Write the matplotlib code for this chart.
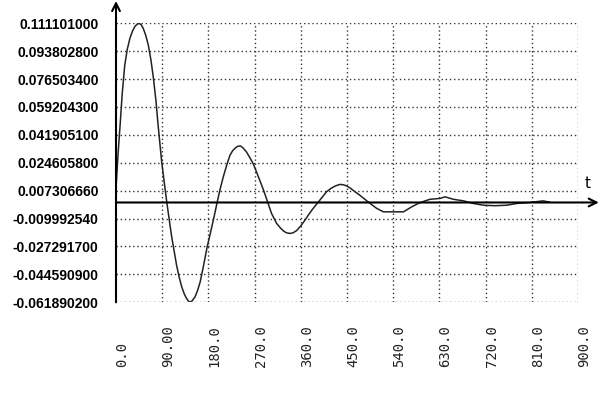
import matplotlib
matplotlib.use("Agg")
import matplotlib.pyplot as plt

# ======================
# DATA
# ======================
t_vals = [0, 4, 8, 12, 17, 22, 27, 32, 37, 41, 45, 49, 53, 58, 63, 68, 73,
          78, 82, 89, 94, 99, 108, 118, 123, 128, 133, 138, 143, 148, 154,
          159, 164, 170, 177, 186, 192, 197, 203, 209, 216, 222, 227, 232,
          237, 242, 247, 254, 260, 267, 273, 280, 287, 293, 303, 313, 320,
          326, 332, 339, 345, 352, 360, 368, 376, 384, 397, 410, 419, 427,
          436, 443, 449, 456, 465, 475, 491, 508, 521, 540, 560, 576, 589,
          602, 612, 631, 641, 657, 677, 696, 716, 738, 761, 781, 806, 832,
          845]
y_vals = [0.0087, 0.030, 0.048, 0.067, 0.085, 0.095, 0.1017, 0.1062, 0.1092,
          0.1105, 0.1111, 0.1102, 0.108, 0.1036, 0.0975, 0.0885, 0.0769,
          0.0625, 0.048, 0.0252, 0.0125, 0.0, -0.0203, -0.0389, -0.0462,
          -0.0523, -0.0567, -0.0598, -0.0619, -0.0611, -0.0585, -0.0545,
          -0.0492, -0.0400, -0.0284, -0.016, -0.0075, 0.0, 0.0085, 0.0159,
          0.0235, 0.0293, 0.0320, 0.0337, 0.0348, 0.0351, 0.0340, 0.0314,
          0.0282, 0.0242, 0.0195, 0.0138, 0.0080, 0.0025, -0.0068, -0.013,
          -0.0157, -0.0176, -0.0188, -0.0192, -0.0188, -0.0174, -0.0145,
          -0.011, -0.0072, -0.0037, 0.0014, 0.0066, 0.0088, 0.0102, 0.0112,
          0.0110, 0.0103, 0.0090, 0.0068, 0.0045, 0.0004, -0.0037, -0.0058,
          -0.0058, -0.0058, -0.0027, -0.0006, 0.001, 0.002, 0.0025, 0.0035,
          0.002, 0.001, -0.0006, -0.0017, -0.002, -0.0017, -0.0006, 0.0,
          0.001, 0.0002]

y_ticks = [0.111101000, 0.093802800, 0.076503400, 0.059204300, 0.041905100,
           0.024605800, 0.007306660, -0.009992540, -0.027291700,
           -0.044590900, -0.061890200]
y_tick_labels = ["0.111101000", "0.093802800", "0.076503400", "0.059204300",
                 "0.041905100", "0.024605800", "0.007306660", "-0.009992540",
                 "-0.027291700", "-0.044590900", "-0.061890200"]
x_ticks = [0, 90, 180, 270, 360, 450, 540, 630, 720, 810, 900]
x_tick_labels = ["0.0", "90.00", "180.0", "270.0", "360.0", "450.0",
                 "540.0", "630.0", "720.0", "810.0", "900.0"]

# ======================
# FIGURE
# ======================
W, H = 604, 400
fig = plt.figure(figsize=(W / 100, H / 100), dpi=100)
ax_left, ax_right, ax_top, ax_bottom = 116, 578, 23.3, 302.3
ax = fig.add_axes([ax_left / W, 1 - ax_bottom / H,
                   (ax_right - ax_left) / W, (ax_bottom - ax_top) / H])
ax.set_xlim(0, 900)
ax.set_ylim(y_ticks[-1], y_ticks[0])

for s in ax.spines.values():
    s.set_visible(False)

# dotted grid
for xv in x_ticks[1:]:
    ax.axvline(xv, color="#333333", lw=1.0, ls=(0, (1, 2)), zorder=1)
for yv in y_ticks:
    ax.axhline(yv, color="#333333", lw=1.0, ls=(0, (1, 2)), zorder=1)

# curve
ax.plot(t_vals, y_vals, color="#222222", lw=1.1, zorder=3,
        solid_joinstyle="round", solid_capstyle="round")

# axes with arrows
ax.annotate("", xy=(1.045, 0), xytext=(0, 0),
            xycoords=("axes fraction", "data"),
            textcoords=("axes fraction", "data"),
            arrowprops=dict(arrowstyle="->", lw=1.5, color="black",
                            mutation_scale=14, shrinkA=0, shrinkB=0),
            zorder=4, annotation_clip=False)
ax.annotate("", xy=(0, 1.08), xytext=(0, 0),
            xycoords="axes fraction", textcoords="axes fraction",
            arrowprops=dict(arrowstyle="->", lw=1.5, color="black",
                            mutation_scale=14, shrinkA=0, shrinkB=0),
            zorder=4, annotation_clip=False)
fig.text(588 / W, 1 - 184 / H, "t", fontsize=11, ha="center", va="center",
         family="DejaVu Sans")

# tick labels
ax.set_xticks([])
ax.set_yticks(y_ticks)
ax.set_yticklabels(y_tick_labels, fontsize=10, fontweight="bold",
                   family="Liberation Sans")
ax.tick_params(axis="y", length=0, pad=12.5)

for xv, lab in zip(x_ticks, x_tick_labels):
    fig.text((ax_left + xv / 900 * (ax_right - ax_left) + 6) / W,
             1 - 367 / H, lab, rotation=90, ha="center", va="bottom",
             fontsize=10, family="DejaVu Sans Mono", color="#222222")

plt.savefig("out.png", dpi=100)
